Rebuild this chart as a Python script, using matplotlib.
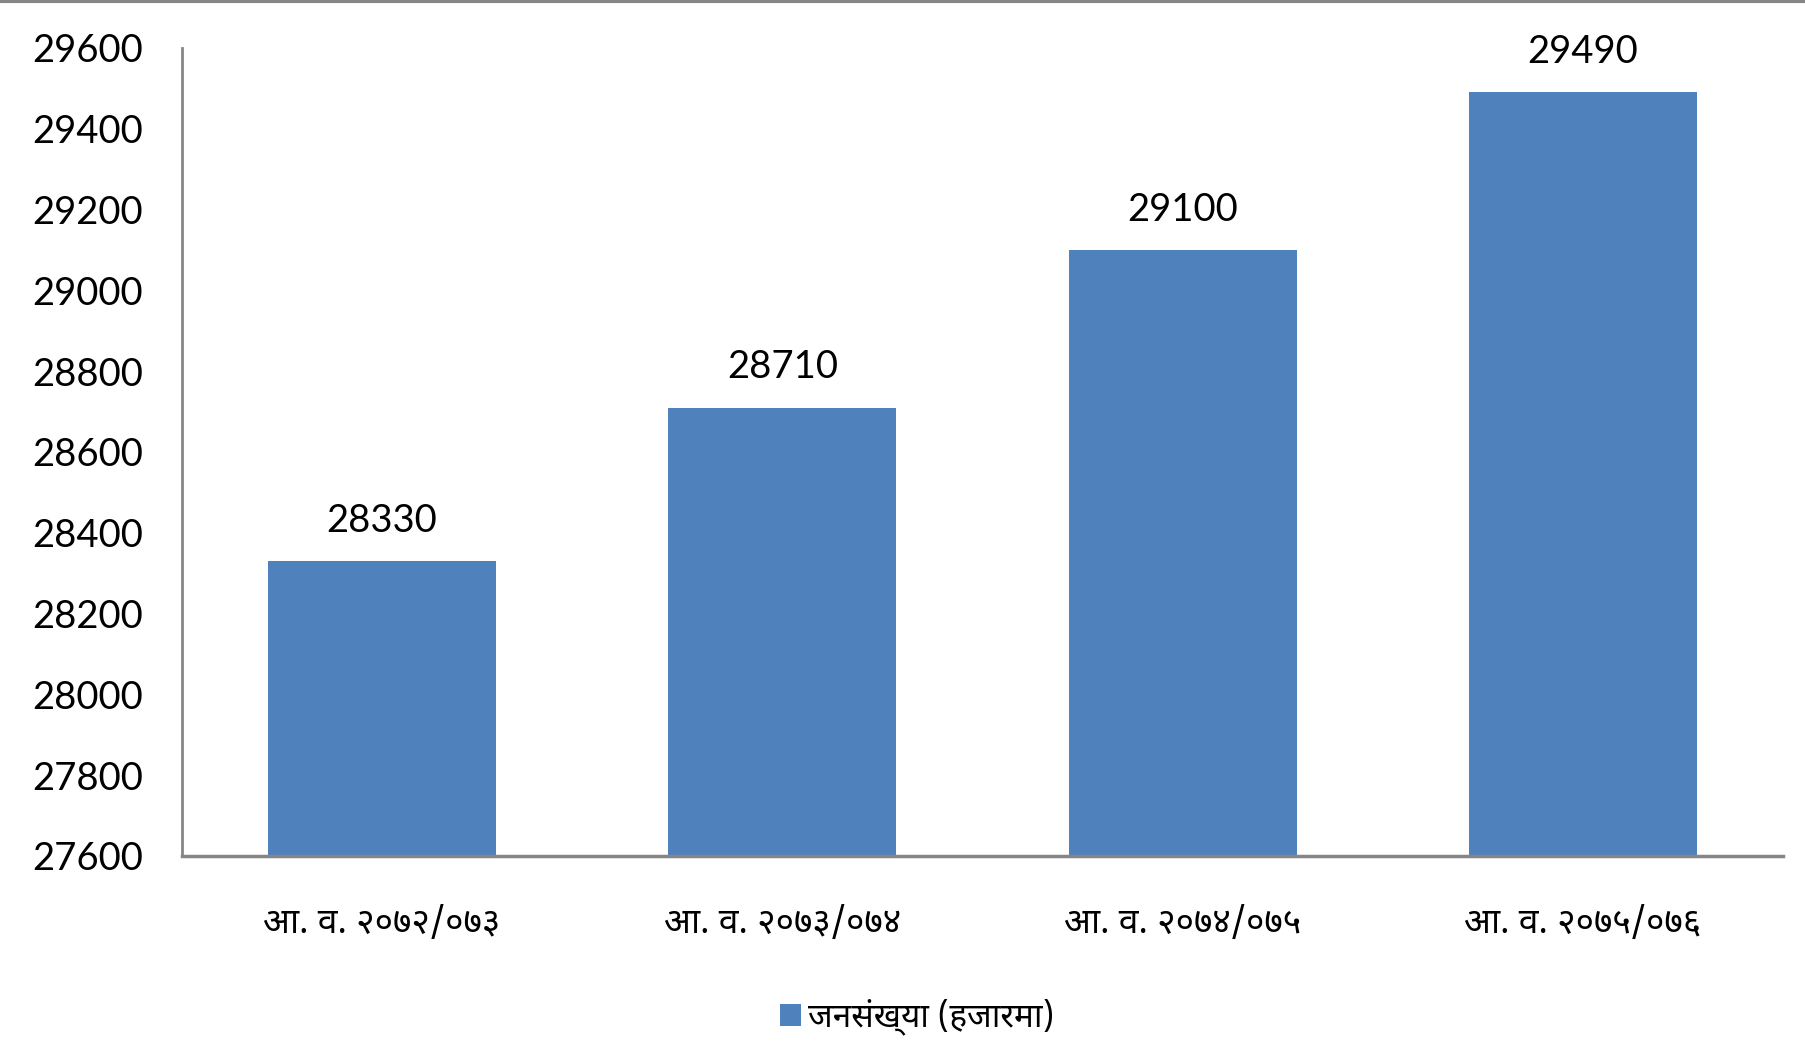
import matplotlib
matplotlib.use("Agg")
import matplotlib.pyplot as plt
from matplotlib import font_manager as fm

categories = ["आ. व. २०७२/०७३", "आ. व. २०७३/०७४", "आ. व. २०७४/०७५", "आ. व. २०७५/०७६"]
values = [28330, 28710, 29100, 29490]
series_name = "जनसंख्या (हजारमा)"
yticks = [27600, 27800, 28000, 28200, 28400, 28600, 28800, 29000, 29200, 29400, 29600]

installed = {f.name for f in fm.fontManager.ttflist}
deva_candidates = ["Noto Sans Devanagari", "Lohit Devanagari", "Mukta", "Kalimati", "FreeSans", "Mangal"]
deva = [f for f in deva_candidates if f in installed]
num_font = [f for f in ["Lato", "Open Sans", "DejaVu Sans"] if f in installed]
deva_font = deva + ["DejaVu Sans"]

bar_color = "#4F81BD"
axis_color = "#868686"

fig = plt.figure(figsize=(18.06, 10.62), dpi=100)
ax = fig.add_axes([182/1806, 1 - 856/1062, (1783-182)/1806, (856-48)/1062])

x = list(range(len(categories)))
bars = ax.bar(x, values, width=0.57, color=bar_color, label=series_name, zorder=2)
ax.set_xlim(-0.5, 3.5)
ax.set_ylim(27600, 29600)
ax.set_yticks(yticks)
ax.set_yticklabels([str(v) for v in yticks], family=num_font, fontsize=27.5)
ax.set_xticks(x)
ax.set_xticklabels(categories, family=deva_font, fontsize=25.5, fontweight="bold")
ax.tick_params(axis="y", length=0, pad=28)
ax.tick_params(axis="x", length=0, pad=36)

for s in ["top", "right"]:
    ax.spines[s].set_visible(False)
ax.spines["left"].set_color(axis_color)
ax.spines["left"].set_linewidth(2)
ax.spines["bottom"].set_color(axis_color)
ax.spines["bottom"].set_linewidth(2.5)

for b, v in zip(bars, values):
    ax.annotate(str(v), (b.get_x() + b.get_width()/2, v), xytext=(0, 16),
                textcoords="offset points", ha="center", va="bottom",
                family=num_font, fontsize=27.5)

leg = fig.legend(handles=[bars], labels=[series_name], loc="center",
                 bbox_to_anchor=(917/1806, 1 - 1017/1062), frameon=False,
                 prop={"family": deva_font, "size": 24, "weight": "bold"},
                 handlelength=0.65, handleheight=0.65, handletextpad=0.2)

fig.add_artist(plt.Line2D([0, 1], [1 - 1/1062, 1 - 1/1062], color=axis_color, lw=3, transform=fig.transFigure))

fig.savefig("out.png", dpi=100, facecolor="white")
